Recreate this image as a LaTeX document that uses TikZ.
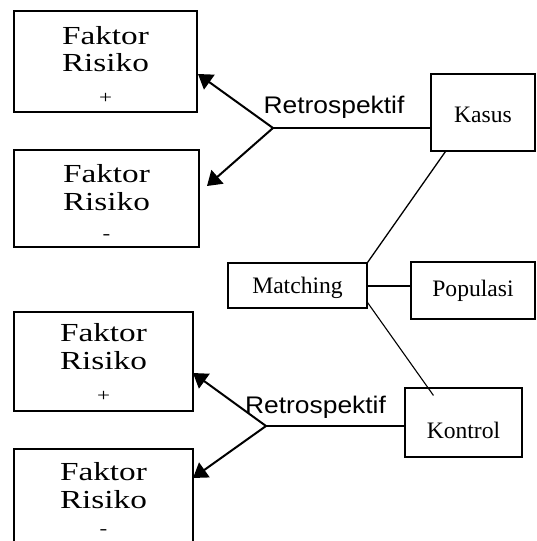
\documentclass[tikz,border=0pt]{standalone}
\usepackage{fontspec}
\setmainfont{Liberation Serif}
\newfontfamily\fkfont[FakeStretch=1.28]{Liberation Serif}
\newfontfamily\retfont[FakeStretch=1.1]{Liberation Sans}
\usetikzlibrary{arrows.meta,calc}
\begin{document}
\begin{tikzpicture}[x=1pt,y=-1pt,
  box/.style={draw, line width=1.1pt, inner sep=0pt},
  lbl/.style={anchor=base, inner sep=0pt, font=\fontsize{23.6}{28}\selectfont},
  fk/.style={anchor=base, inner sep=0pt, font=\fkfont\fontsize{26}{30}\selectfont},
  sgn/.style={inner sep=0pt, font=\fkfont\fontsize{18}{20}\selectfont},
  ret/.style={anchor=base, inner sep=0pt, font=\retfont\fontsize{24}{28}\selectfont},
  arr/.style={line width=2pt, -{Triangle[length=14pt,width=18pt]}},
  conn/.style={line width=1.3pt}]
\clip (0,0) rectangle (536,541);
% factor boxes
\node[box, minimum width=183pt, minimum height=101pt] (f1) at (105.5,61.5) {};
\node[box, minimum width=185pt, minimum height=97pt] (f2) at (106.5,198.5) {};
\node[box, minimum width=179pt, minimum height=99pt] (f3) at (103.5,361.5) {};
\node[box, minimum width=179pt, minimum height=121pt] (f4) at (103.5,509.5) {};
\node[fk] (f1a) at (105.5,44) {Faktor};
\node[fk] (f1b) at (105.5,71) {Risiko};
\node[sgn] (f1c) at (105.5,98) {+};
\node[fk] (f2a) at (106.5,182.3) {Faktor};
\node[fk] (f2b) at (106.5,210) {Risiko};
\node[sgn] (f2c) at (106.5,237) {-};
\node[fk] (f3a) at (103.5,341.7) {Faktor};
\node[fk] (f3b) at (103.5,369) {Risiko};
\node[sgn] (f3c) at (103.5,396) {+};
\node[fk] (f4a) at (103.5,480.7) {Faktor};
\node[fk] (f4b) at (103.5,508.3) {Risiko};
\node[sgn] (f4c) at (103.5,532.3) {-};
% right boxes
\node[box, minimum width=104pt, minimum height=77pt] (kasus) at (483,112.5) {};
\node[box, minimum width=139pt, minimum height=45pt] (match) at (297.5,285.5) {};
\node[box, line width=2pt, minimum width=124pt, minimum height=57pt] (pop) at (473,290.5) {};
\node[box, minimum width=117pt, minimum height=69pt] (kontrol) at (463.5,422.5) {};
\node[lbl] (kasust) at (483,122.3) {Kasus};
\node[lbl] (matcht) at (297.5,293.3) {Matching};
\node[lbl] (popt) at (473,296.7) {Populasi};
\node[lbl] (kontrolt) at (463.5,438.3) {Kontrol};
% retrospektif labels
\node[ret] (r1) at (334,113.3) {Retrospektif};
\node[ret] (r2) at (315.5,413) {Retrospektif};
% junctions and arrows
\coordinate (j1) at (273,128);
\coordinate (j2) at (266,426);
\coordinate (t1) at (198,74);
\coordinate (t2) at (207,186);
\coordinate (t3) at (193,373);
\coordinate (t4) at (193,478);
\draw[arr] (j1) -- (t1);
\draw[arr] (j1) -- (t2);
\draw[arr] (j2) -- (t3);
\draw[arr] (j2) -- (t4);
\draw[line width=1.6pt] (j1) -- (j1 -| kasus.west);
\draw[line width=1.6pt] (j2) -- (j2 -| kontrol.west);
% matching connectors
\draw[conn] (match.north east) -- ($(kasus.south west)+(15,0)$);
\draw[line width=2pt] (match.east) -- (match.east -| pop.west);
\draw[line width=1.1pt] ($(match.south east)+(0,-6)$) -- ($(kontrol.north west)+(29,8)$);
\end{tikzpicture}
\end{document}
